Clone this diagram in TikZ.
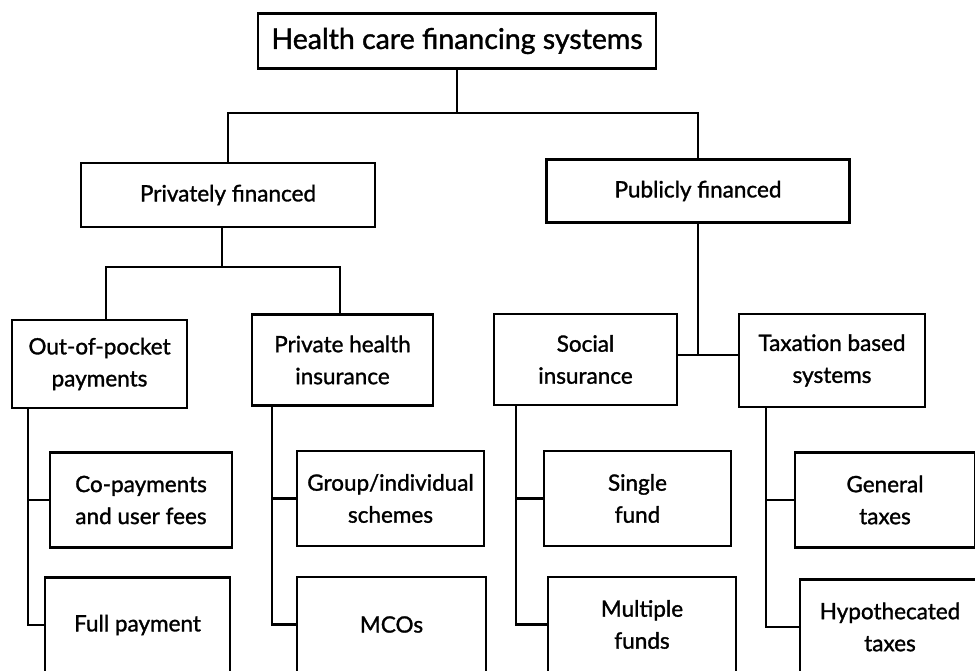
\documentclass[tikz,border=0pt]{standalone}
\usepackage{fontspec}
\setmainfont{Lato}[FakeBold=1.3]
\usetikzlibrary{positioning,calc}
\tikzset{
  box/.style  = {draw, line width=2.4pt, align=center, inner sep=0pt,
                 font=\fontsize{22.5}{32}\selectfont},
  wire/.style = {line width=2.4pt},
}

\begin{document}
\begin{tikzpicture}[x=1pt,y=-1pt]
  \useasboundingbox (0,0) rectangle (975,670);
  \clip (0,0) rectangle (975,670);
  % top and second level
  \node[box, minimum width=398, minimum height=55, font=\fontsize{28.5}{32}\selectfont]
    (top) at (457,41) {Health care financing systems};
  \node[box, minimum width=294, minimum height=64] (priv) at (228,195) {Privately financed};
  \node[box, minimum width=303, minimum height=63] (pub) at (698,191) {Publicly financed};
  % third level
  \foreach \n/\x/\y/\w/\h/\t in {oop/99.5/364/175/88/{Out-of-pocket\\payments},
      phi/342.5/360/181/91/{Private health\\insurance},
      soc/585.5/359.5/183/91/{Social\\insurance},
      tax/832/360.5/186/93/{Taxation based\\systems}}
    {\node[box, minimum width=\w, minimum height=\h] (\n) at (\x,\y) {\t};}
  % leaves
  \foreach \n/\x/\y/\w/\t in {copay/141/500/182/{Co-payments\\and user fees},
      group/390.5/498.5/187/{Group/individual\\schemes},
      single/637.5/498.5/187/{Single\\fund},
      general/885/500/180/{General\\taxes},
      full/137.5/625/185/{Full payment},
      mco/391.5/624.5/189/{MCOs},
      multi/642/624.5/188/{Multiple\\funds},
      hypo/890/627/180/{Hypothecated\\taxes}}
    {\node[box, minimum width=\w, minimum height=95] (\n) at (\x,\y) {\t};}
  % connectors
  \coordinate (j1) at (457,113);
  \draw[wire] (top) -- (j1);
  \draw[wire] (priv.north) |- (j1) -| (pub.north);
  \coordinate (j2) at (222,267);
  \coordinate (j2a) at (106,267);
  \coordinate (j2b) at (340,267);
  \draw[wire] (j2 |- priv.south) -- (j2);
  \draw[wire] (j2a |- oop.north) -- (j2a) -- (j2b) -- (j2b |- phi.north);
  \coordinate (j3) at (pub.south |- 0,355);
  \draw[wire] (pub.south) -- (j3);
  \draw[wire] (soc.east |- j3) -- (tax.west |- j3);
  \foreach \p/\a/\b/\x in {oop/copay/full/28, phi/group/mco/272,
      soc/single/multi/516, tax/general/hypo/766}
    {\draw[wire] (\p.south -| \x,0) |- (\b.west);
     \draw[wire] (\a.west -| \x,0) -- (\a.west);}
\end{tikzpicture}
\end{document}
